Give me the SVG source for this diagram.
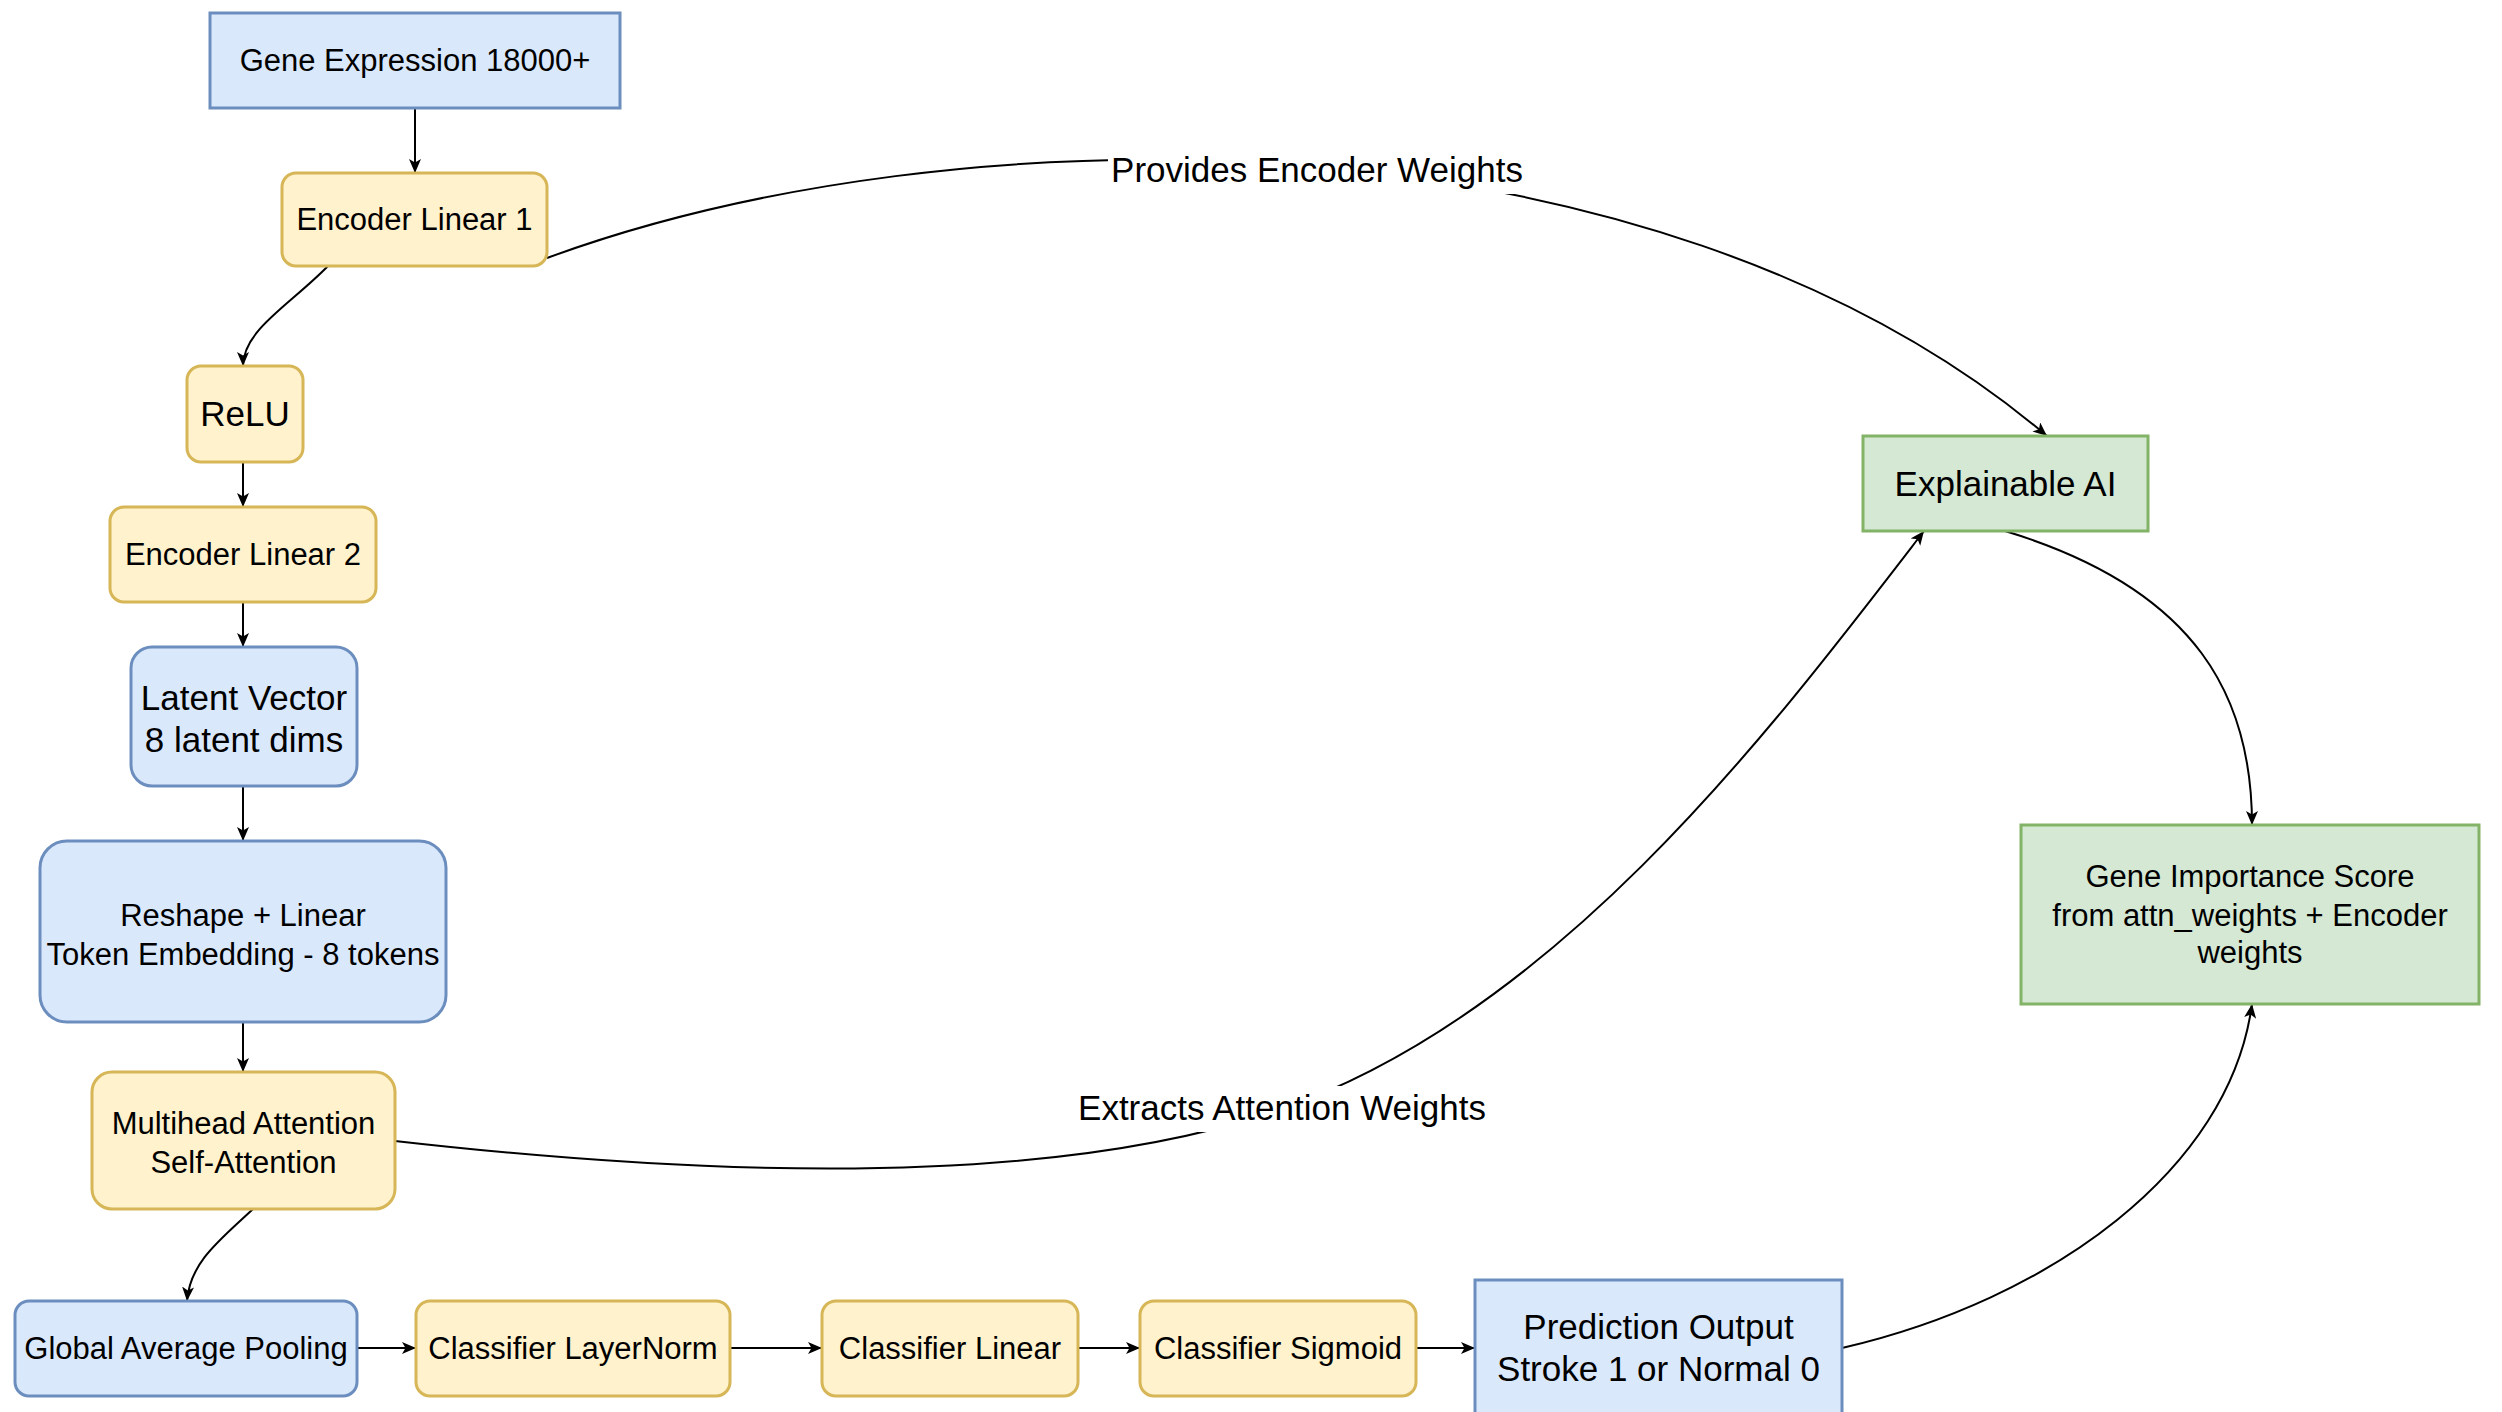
<svg xmlns="http://www.w3.org/2000/svg" width="2502" height="1412" viewBox="0 0 2502 1412">
<style>
text{font-family:"Liberation Sans",Arial,sans-serif;fill:#000;text-anchor:middle}
.s{font-size:31px}
.l{font-size:35px}
.blue{fill:#dae8fc;stroke:#6c8ebf;stroke-width:3}
.yel{fill:#fff2cc;stroke:#d6b656;stroke-width:3}
.grn{fill:#d5e8d4;stroke:#82b366;stroke-width:3}
.e{fill:none;stroke:#000;stroke-width:2;marker-end:url(#arr)}
</style>
<defs>
<marker id="arr" markerUnits="userSpaceOnUse" markerWidth="16" markerHeight="14" refX="14" refY="6" orient="auto">
<path d="M0,0 L14,6 L0,12 L3.5,6 z" fill="#000"/>
</marker>
</defs>
<rect width="2502" height="1412" fill="#fff"/>
<g id="connectors">
<path class="e" d="M415,108 L415,173"/>
<path class="e" d="M328,266 C290,305 243,330 243,366"/>
<path class="e" d="M243,462 L243,507"/>
<path class="e" d="M243,602 L243,647"/>
<path class="e" d="M243,786 L243,841"/>
<path class="e" d="M243,1022 L243,1072"/>
<path class="e" d="M253,1209 C220,1240 190,1262 187,1301"/>
<path class="e" d="M357,1348 L416,1348"/>
<path class="e" d="M730,1348 L822,1348"/>
<path class="e" d="M1078,1348 L1140,1348"/>
<path class="e" d="M1416,1348 L1475,1348"/>
<path class="e" d="M1842,1348 C2050,1300 2230,1170 2252,1004"/>
<path class="e" d="M2005,531 C2200,590 2252,700 2252,825"/>
<path class="e" d="M547,258 C950,110 1650,100 2047,436"/>
<path class="e" d="M395,1141 C650,1170 1032,1196 1282,1109 C1560,1012 1774,726 1924,531"/>
<g id="label-provides">
<rect x="1108" y="148" width="418" height="46" fill="#fff"/>
<text class="l" x="1317" y="182">Provides Encoder Weights</text>
</g>
<g id="label-extracts">
<rect x="1072" y="1086" width="420" height="46" fill="#fff"/>
<text class="l" x="1282" y="1120">Extracts Attention Weights</text>
</g>
</g>
<g id="gene-expression"><rect class="blue" x="210" y="13" width="410" height="95"/><text class="s" x="415" y="71">Gene Expression 18000+</text></g>
<g id="encoder-linear-1"><rect class="yel" x="282" y="173" width="265" height="93" rx="14"/><text class="s" x="414.5" y="230">Encoder Linear 1</text></g>
<g id="relu"><rect class="yel" x="187" y="366" width="116" height="96" rx="14"/><text class="l" x="245" y="426">ReLU</text></g>
<g id="encoder-linear-2"><rect class="yel" x="110" y="507" width="266" height="95" rx="14"/><text class="s" x="243" y="565">Encoder Linear 2</text></g>
<g id="latent-vector"><rect class="blue" x="131" y="647" width="226" height="139" rx="21"/><text class="l" x="244" y="710">Latent Vector</text><text class="l" x="244" y="752">8 latent dims</text></g>
<g id="reshape-linear"><rect class="blue" x="40" y="841" width="406" height="181" rx="27"/><text class="s" x="243" y="926">Reshape + Linear</text><text class="s" x="243" y="965">Token Embedding - 8 tokens</text></g>
<g id="multihead-attention"><rect class="yel" x="92" y="1072" width="303" height="137" rx="20"/><text class="s" x="243.5" y="1134">Multihead Attention</text><text class="s" x="243.5" y="1173">Self-Attention</text></g>
<g id="global-average-pooling"><rect class="blue" x="15" y="1301" width="342" height="95" rx="14"/><text class="s" x="186" y="1359">Global Average Pooling</text></g>
<g id="classifier-layernorm"><rect class="yel" x="416" y="1301" width="314" height="95" rx="14"/><text class="s" x="573" y="1359">Classifier LayerNorm</text></g>
<g id="classifier-linear"><rect class="yel" x="822" y="1301" width="256" height="95" rx="14"/><text class="s" x="950" y="1359">Classifier Linear</text></g>
<g id="classifier-sigmoid"><rect class="yel" x="1140" y="1301" width="276" height="95" rx="14"/><text class="s" x="1278" y="1359">Classifier Sigmoid</text></g>
<g id="prediction-output"><rect class="blue" x="1475" y="1280" width="367" height="136"/><text class="l" x="1658.5" y="1339">Prediction Output</text><text class="l" x="1658.5" y="1381">Stroke 1 or Normal 0</text></g>
<g id="explainable-ai"><rect class="grn" x="1863" y="436" width="285" height="95"/><text class="l" x="2005.5" y="496">Explainable AI</text></g>
<g id="gene-importance"><rect class="grn" x="2021" y="825" width="458" height="179"/><text class="s" x="2250" y="887">Gene Importance Score</text><text class="s" x="2250" y="926">from attn_weights + Encoder</text><text class="s" x="2250" y="963">weights</text></g>
</svg>
